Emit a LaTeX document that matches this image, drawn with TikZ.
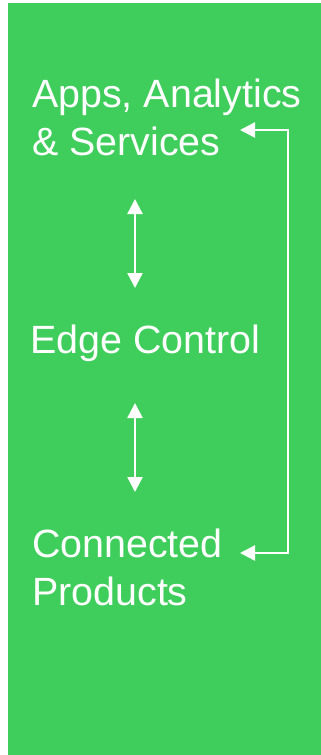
\documentclass[tikz,border=0pt]{standalone}
\usepackage{fontspec}
\setmainfont{Liberation Sans}
\usetikzlibrary{arrows.meta}
\definecolor{bggreen}{RGB}{63,206,91}
\begin{document}
\begin{tikzpicture}[x=1pt,y=-1pt,
  lbl/.style={text=white,font=\fontsize{39.4}{47.5}\selectfont,align=left,inner sep=0pt,anchor=base west},
  conn/.style={draw=white,line width=2.4pt,
    {Triangle[length=15pt,width=15pt]}-{Triangle[length=15pt,width=15pt]}}]
\useasboundingbox (0,0) rectangle (321,755);
\fill[bggreen] (8,3) rectangle (321,755);
\node[lbl] (apps) at (32,155) {Apps, Analytics\\\& Services};
\node[lbl] (edge) at (30,353) {Edge Control};
\node[lbl] (prod) at (32,605) {Connected\\Products};
\coordinate (a1) at (135,199);
\coordinate (a2) at (135,288);
\coordinate (b1) at (135,403);
\coordinate (b2) at (135,492);
\coordinate (r1) at (240,130);
\coordinate (r2) at (240,553);
\draw[conn] (a1) -- (a2);
\draw[conn] (b1) -- (b2);
\draw[conn] (r2) -- (288,553) -- (288,130) -- (r1);
\end{tikzpicture}
\end{document}
